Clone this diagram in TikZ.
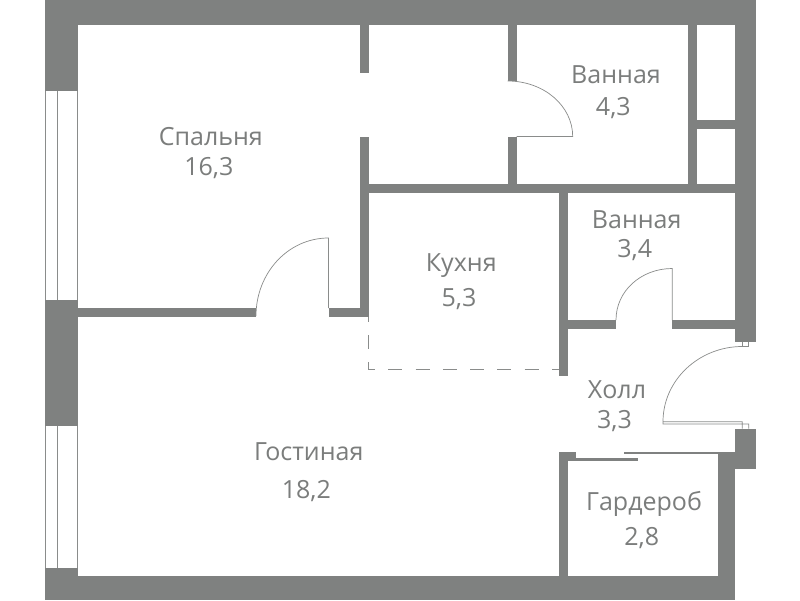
\documentclass[tikz,border=0pt]{standalone}
\usepackage{fontspec}
\setmainfont{Open Sans}[Scale=1]
\definecolor{wallc}{HTML}{7F8180}
\definecolor{textc}{HTML}{7B7D7C}
\definecolor{linec}{HTML}{8A8C8B}
\tikzset{
  wall/.style={fill=wallc,draw=none},
  thin line/.style={draw=linec,line width=0.7pt},
  label/.style={text=textc,font=\fontsize{25}{25}\selectfont,inner sep=0pt,anchor=base},
}
\begin{document}
\begin{tikzpicture}[x=1pt,y=-1pt]
\useasboundingbox (0,0) rectangle (800,600);
\fill[white] (0,0) rectangle (800,600);
% outer walls
\fill[wall] (45,0) rectangle (755.5,25);
\fill[wall] (45,0) rectangle (78,91);
\fill[wall] (45,300) rectangle (78,426);
\fill[wall] (45,568) rectangle (78,600);
\fill[wall] (45,576) rectangle (735,600);
\fill[wall] (735,0) rectangle (755.5,341.7);
\fill[wall] (735,428.7) rectangle (755.5,468.7);
\fill[wall] (718.3,451.7) rectangle (735,600);
% partitions
\fill[wall] (359.5,25) rectangle (368.5,73);
\fill[wall] (359.5,136.5) rectangle (368.5,316.5);
\fill[wall] (78,308) rectangle (256,316.5);
\fill[wall] (328.5,308) rectangle (368.5,316.5);
\fill[wall] (359.5,184) rectangle (735,193);
\fill[wall] (507.7,25) rectangle (516.7,81);
\fill[wall] (507.7,136.5) rectangle (516.7,184);
\fill[wall] (688,25) rectangle (697,184);
\fill[wall] (697,120.3) rectangle (735,129.3);
\fill[wall] (559,193) rectangle (567.7,375.7);
\fill[wall] (567.7,320) rectangle (616,328.7);
\fill[wall] (672.3,320) rectangle (735,328.7);
\fill[wall] (559,451.7) rectangle (567.7,576);
\fill[wall] (559,451.7) rectangle (575.7,460.7);
\fill[wall] (575.7,458) rectangle (638.3,460.7);
\fill[wall] (624.3,451.7) rectangle (718.3,454.3);
% windows
\draw[thin line] (45.5,91) -- (45.5,300) (57,91) -- (57,300) (77.3,91) -- (77.3,300);
\draw[thin line] (45.5,426) -- (45.5,568) (57,426) -- (57,568) (77.3,426) -- (77.3,568);
% doors
\draw[thin line] (256,316) .. controls (256,273) and (288,238) .. (328.5,238) -- (328.5,308);
\draw[thin line] (507.7,81) .. controls (544,81) and (572.7,106) .. (572.7,136.5) -- (516.7,136.5);
\draw[thin line] (616,320) .. controls (616,291) and (641,268.5) .. (672.3,268.5) -- (672.3,320);
\draw[thin line] (742.3,346.5) .. controls (699,346.5) and (663,380) .. (663,421.7) -- (663,424) -- (742.3,424) (663,421.7) -- (742.3,421.7) -- (742.3,428.7) (748.7,428.7) -- (748.7,424) -- (742.3,424);
\draw[thin line] (742.3,341.7) -- (742.3,346.5) -- (748.7,346.5) -- (748.7,341.7);
% opening
\draw[thin line,dash pattern=on 14pt off 13.3pt,dash phase=8.8pt] (367.9,316.5) -- (367.9,369.3) -- (559,369.3);
% labels
\node[label] (sp) at (210.8,145) {Спальня};
\node[label] (spa) at (208.8,175) {16,3};
\node[label] (vn1) at (616,83.3) {Ванная};
\node[label] (vn1a) at (613.3,115.7) {4,3};
\node[label] (vn2) at (636.7,228.3) {Ванная};
\node[label] (vn2a) at (634.7,257.7) {3,4};
\node[label] (ku) at (461.3,271.7) {Кухня};
\node[label] (kua) at (459,306.7) {5,3};
\node[label] (ho) at (617,398.3) {Холл};
\node[label] (hoa) at (614.5,428.3) {3,3};
\node[label] (go) at (308.7,460) {Гостиная};
\node[label] (goa) at (306.3,498.3) {18,2};
\node[label] (ga) at (644,510) {Гардероб};
\node[label] (gaa) at (641.7,545.7) {2,8};
\end{tikzpicture}
\end{document}
